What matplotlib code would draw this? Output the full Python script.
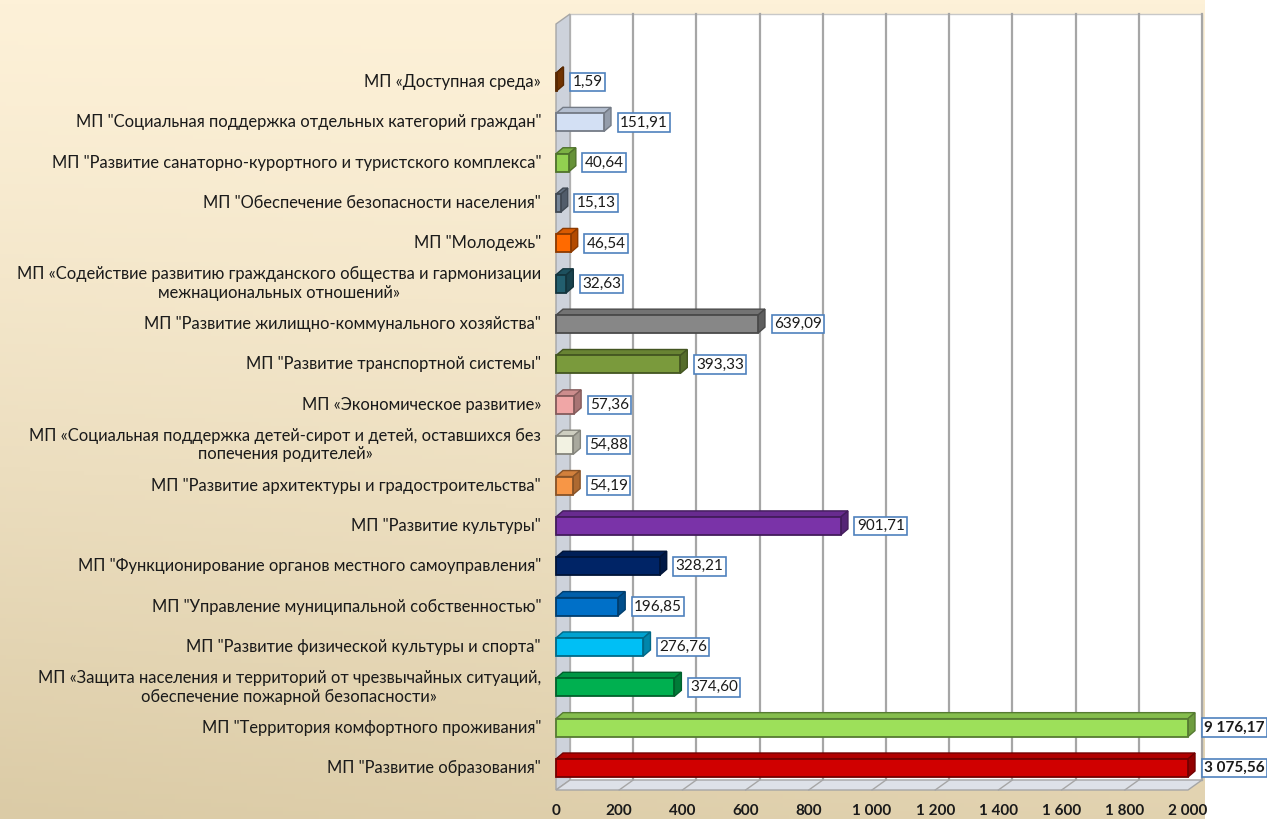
import numpy as np
import matplotlib
matplotlib.use("Agg")
import matplotlib.pyplot as plt
from matplotlib.patches import Polygon, Rectangle
from matplotlib.colors import to_rgb

plt.rcParams["font.family"] = ["Lato", "DejaVu Sans"]

# bottom to top
labels = [
    'МП "Развитие образования"',
    'МП "Территория комфортного проживания"',
    'МП «Защита населения и территорий от чрезвычайных ситуаций,\nобеспечение пожарной безопасности»',
    'МП "Развитие физической культуры и спорта"',
    'МП "Управление муниципальной собственностью"',
    'МП "Функционирование органов местного самоуправления"',
    'МП "Развитие культуры"',
    'МП "Развитие архитектуры и градостроительства"',
    'МП «Социальная поддержка детей-сирот и детей, оставшихся без\nпопечения родителей»',
    'МП «Экономическое развитие»',
    'МП "Развитие транспортной системы"',
    'МП "Развитие жилищно-коммунального хозяйства"',
    'МП «Содействие развитию гражданского общества и гармонизации\nмежнациональных отношений»',
    'МП "Молодежь"',
    'МП "Обеспечение безопасности населения"',
    'МП "Развитие санаторно-курортного и туристского комплекса"',
    'МП "Социальная поддержка отдельных категорий граждан"',
    'МП «Доступная среда»',
]
values = [3075.56, 9176.17, 374.60, 276.76, 196.85, 328.21, 901.71, 54.19, 54.88,
          57.36, 393.33, 639.09, 32.63, 46.54, 15.13, 40.64, 151.91, 1.59]
colors = ["#D00000", "#9DE05A", "#00B050", "#00BFF5", "#0070C8", "#002466",
          "#7A33A8", "#F79646", "#F2F2E2", "#F0A6A6", "#7A9A3C", "#878787",
          "#225E6E", "#FF6A00", "#748497", "#92D050", "#D3E0F4", "#A04800"]
xticks = [0, 200, 400, 600, 800, 1000, 1200, 1400, 1600, 1800, 2000]
XMAX = 2000

W, H = 1267, 819
fig = plt.figure(figsize=(W / 100, H / 100), dpi=100)

# background gradient
bg = fig.add_axes([0, 0, 1205 / W, 1])
yy, xx = np.mgrid[0:1:200j, 0:1:200j]
t = np.clip(0.8 * yy ** 1.3 + 0.2 * (1 - xx) * yy, 0, 1)
top = np.array(to_rgb("#FDF1D8"))
bot = np.array(to_rgb("#DBCBA6"))
img = top[None, None, :] * (1 - t[..., None]) + bot[None, None, :] * t[..., None]
bg.imshow(img, aspect="auto", extent=[0, 1, 0, 1], origin="upper")
bg.axis("off")

# main axes in pixel placement (front plane)
x0, x1 = 556, 1188
ytop, ybot = 24, 790
ax = fig.add_axes([x0 / W, (H - ybot) / H, (x1 - x0) / W, (ybot - ytop) / H])
ax.set_facecolor("none")
row = 40.35
y_lo = -(ybot - 768) / row
y_hi = (768 - ytop) / row
ax.set_xlim(0, XMAX)
ax.set_ylim(y_lo, y_hi)
for s in ax.spines.values():
    s.set_visible(False)

upx = XMAX / (x1 - x0)  # data units per pixel
wdx, wdy = 14 * upx, 10 / row  # wall depth
bdx, bdy = 7 * upx, 6 / row    # bar depth
bh = 18 / row

# back wall
ax.add_patch(Rectangle((wdx, y_lo + wdy), XMAX, y_hi - y_lo, fc="white",
                       ec="#C8C8C8", lw=1, zorder=0, clip_on=False))
for xt in xticks[1:]:
    ax.plot([xt + wdx, xt + wdx], [y_lo + wdy, y_hi + wdy], color="#A6A6A6",
            lw=1.6, zorder=0.5, clip_on=False)
# left wall
ax.add_patch(Polygon([(0, y_lo), (wdx, y_lo + wdy), (wdx, y_hi + wdy), (0, y_hi)],
                     closed=True, fc="#CDD2DB", ec="#A6A6A6", lw=1, zorder=0.6, clip_on=False))
# floor
ax.add_patch(Polygon([(0, y_lo), (XMAX, y_lo), (XMAX + wdx, y_lo + wdy), (wdx, y_lo + wdy)],
                     closed=True, fc="#DDE1E8", ec="#A6A6A6", lw=1, zorder=0.6, clip_on=False))
for xt in xticks[1:-1]:
    ax.plot([xt, xt + wdx], [y_lo, y_lo + wdy], color="#A6A6A6", lw=1, zorder=0.7, clip_on=False)


def shade(c, f):
    r = np.array(to_rgb(c)) * f
    return tuple(np.clip(r, 0, 1))


for i, (v, c) in enumerate(zip(values, colors)):
    vv = min(v, XMAX)
    yb, yt = i - bh / 2, i + bh / 2
    ec = shade(c, 0.55)
    ax.add_patch(Polygon([(0, yt), (vv, yt), (vv + bdx, yt + bdy), (bdx, yt + bdy)],
                         closed=True, fc=shade(c, 0.85), ec=ec, lw=1, zorder=2, clip_on=False))
    ax.add_patch(Polygon([(vv, yb), (vv + bdx, yb + bdy), (vv + bdx, yt + bdy), (vv, yt)],
                         closed=True, fc=shade(c, 0.7), ec=ec, lw=1, zorder=2, clip_on=False))
    ax.add_patch(Rectangle((0, yb), vv, bh, fc=c, ec=ec, lw=1.3, zorder=3, clip_on=False))

    txt = f"{v:,.2f}".replace(",", " ").replace(".", ",")
    ax.text(vv + bdx + 28, i, txt, ha="left", va="center", fontsize=11,
            color="#1A1A1A", fontweight="bold" if v > XMAX else "normal",
            bbox=dict(boxstyle="square,pad=0.15", fc="white", ec="#4F81BD", lw=1.2),
            zorder=5, clip_on=False)

    ax.text(-15 * upx, i, labels[i], ha="right", va="center", multialignment="center",
            fontsize=11.9, color="#1A1A1A", linespacing=1.2, clip_on=False)

ax.set_yticks([])
ax.set_xticks(xticks)
ax.set_xticklabels([f"{x:,}".replace(",", " ") for x in xticks],
                   fontweight="bold", fontsize=11, color="#1A1A1A")
ax.tick_params(axis="x", length=0, pad=10)

fig.savefig("out.png", dpi=100)
